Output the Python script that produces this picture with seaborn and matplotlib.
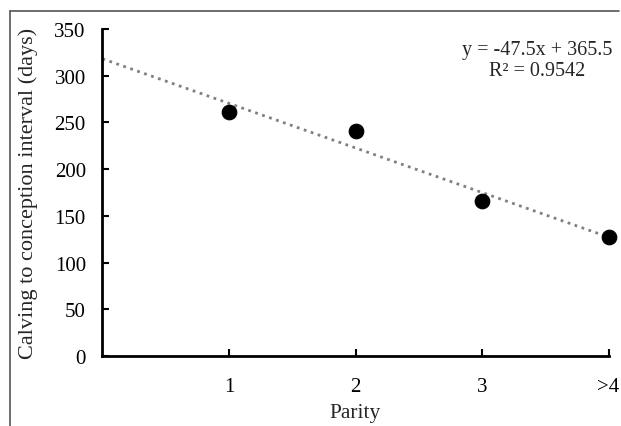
import matplotlib
matplotlib.use("Agg")
import matplotlib.pyplot as plt
import seaborn as sns
import pandas as pd
from matplotlib.lines import Line2D

# values
parity = [1, 2, 3, 4]
parity_labels = ["1", "2", "3", ">4"]
cci_days = [261, 241, 166, 127]
equation = "y = -47.5x + 365.5\nR\u00b2 = 0.9542"

df = pd.DataFrame({"Parity": parity, "CCI": cci_days})

sns.set_theme(style="ticks")
plt.rcParams["font.family"] = ["Liberation Serif", "DejaVu Serif"]

fig = plt.figure(figsize=(6.21, 4.27), dpi=100)
ax = fig.add_axes([0.165, 0.164, 0.815, 0.766])

ax.set_xlim(0, 4)
ax.set_ylim(0, 350)

# dotted linear trendline over the full axis width
sns.regplot(data=df, x="Parity", y="CCI", ax=ax, scatter=False, ci=None,
            truncate=False,
            line_kws={"color": "#808080", "linestyle": ":", "linewidth": 2})
sns.scatterplot(data=df, x="Parity", y="CCI", ax=ax, color="black", s=110,
                edgecolor="black", zorder=3, clip_on=False)

ax.set_xlim(0, 4)
ax.set_ylim(0, 350)
ax.set_xticks(parity)
ax.set_xticklabels(parity_labels)
ax.set_yticks(range(0, 351, 50))
ax.tick_params(direction="in", length=5, width=1.5, labelsize=15, colors="black")
ax.tick_params(axis="y", pad=12)
ax.tick_params(axis="x", pad=15)
for side in ["left", "bottom"]:
    ax.spines[side].set_linewidth(2)
    ax.spines[side].set_color("black")
sns.despine(ax=ax)

ax.set_xlabel("Parity", fontsize=15.5, labelpad=5)
ax.set_ylabel("Calving to conception interval (days)", fontsize=16, labelpad=12)

ax.text(0.859, 0.905, equation, transform=ax.transAxes, ha="center",
        va="center", fontsize=14.5, linespacing=1.15)

# outer frame of the figure image
frame_c = "#555555"
fig.add_artist(Line2D([10 / 621, 10 / 621], [0, 1 - 12 / 427],
                      transform=fig.transFigure, color=frame_c, lw=1.2))
fig.add_artist(Line2D([10 / 621, 619 / 621], [1 - 12 / 427, 1 - 12 / 427],
                      transform=fig.transFigure, color=frame_c, lw=1.2))

fig.savefig("out.png", dpi=100)
